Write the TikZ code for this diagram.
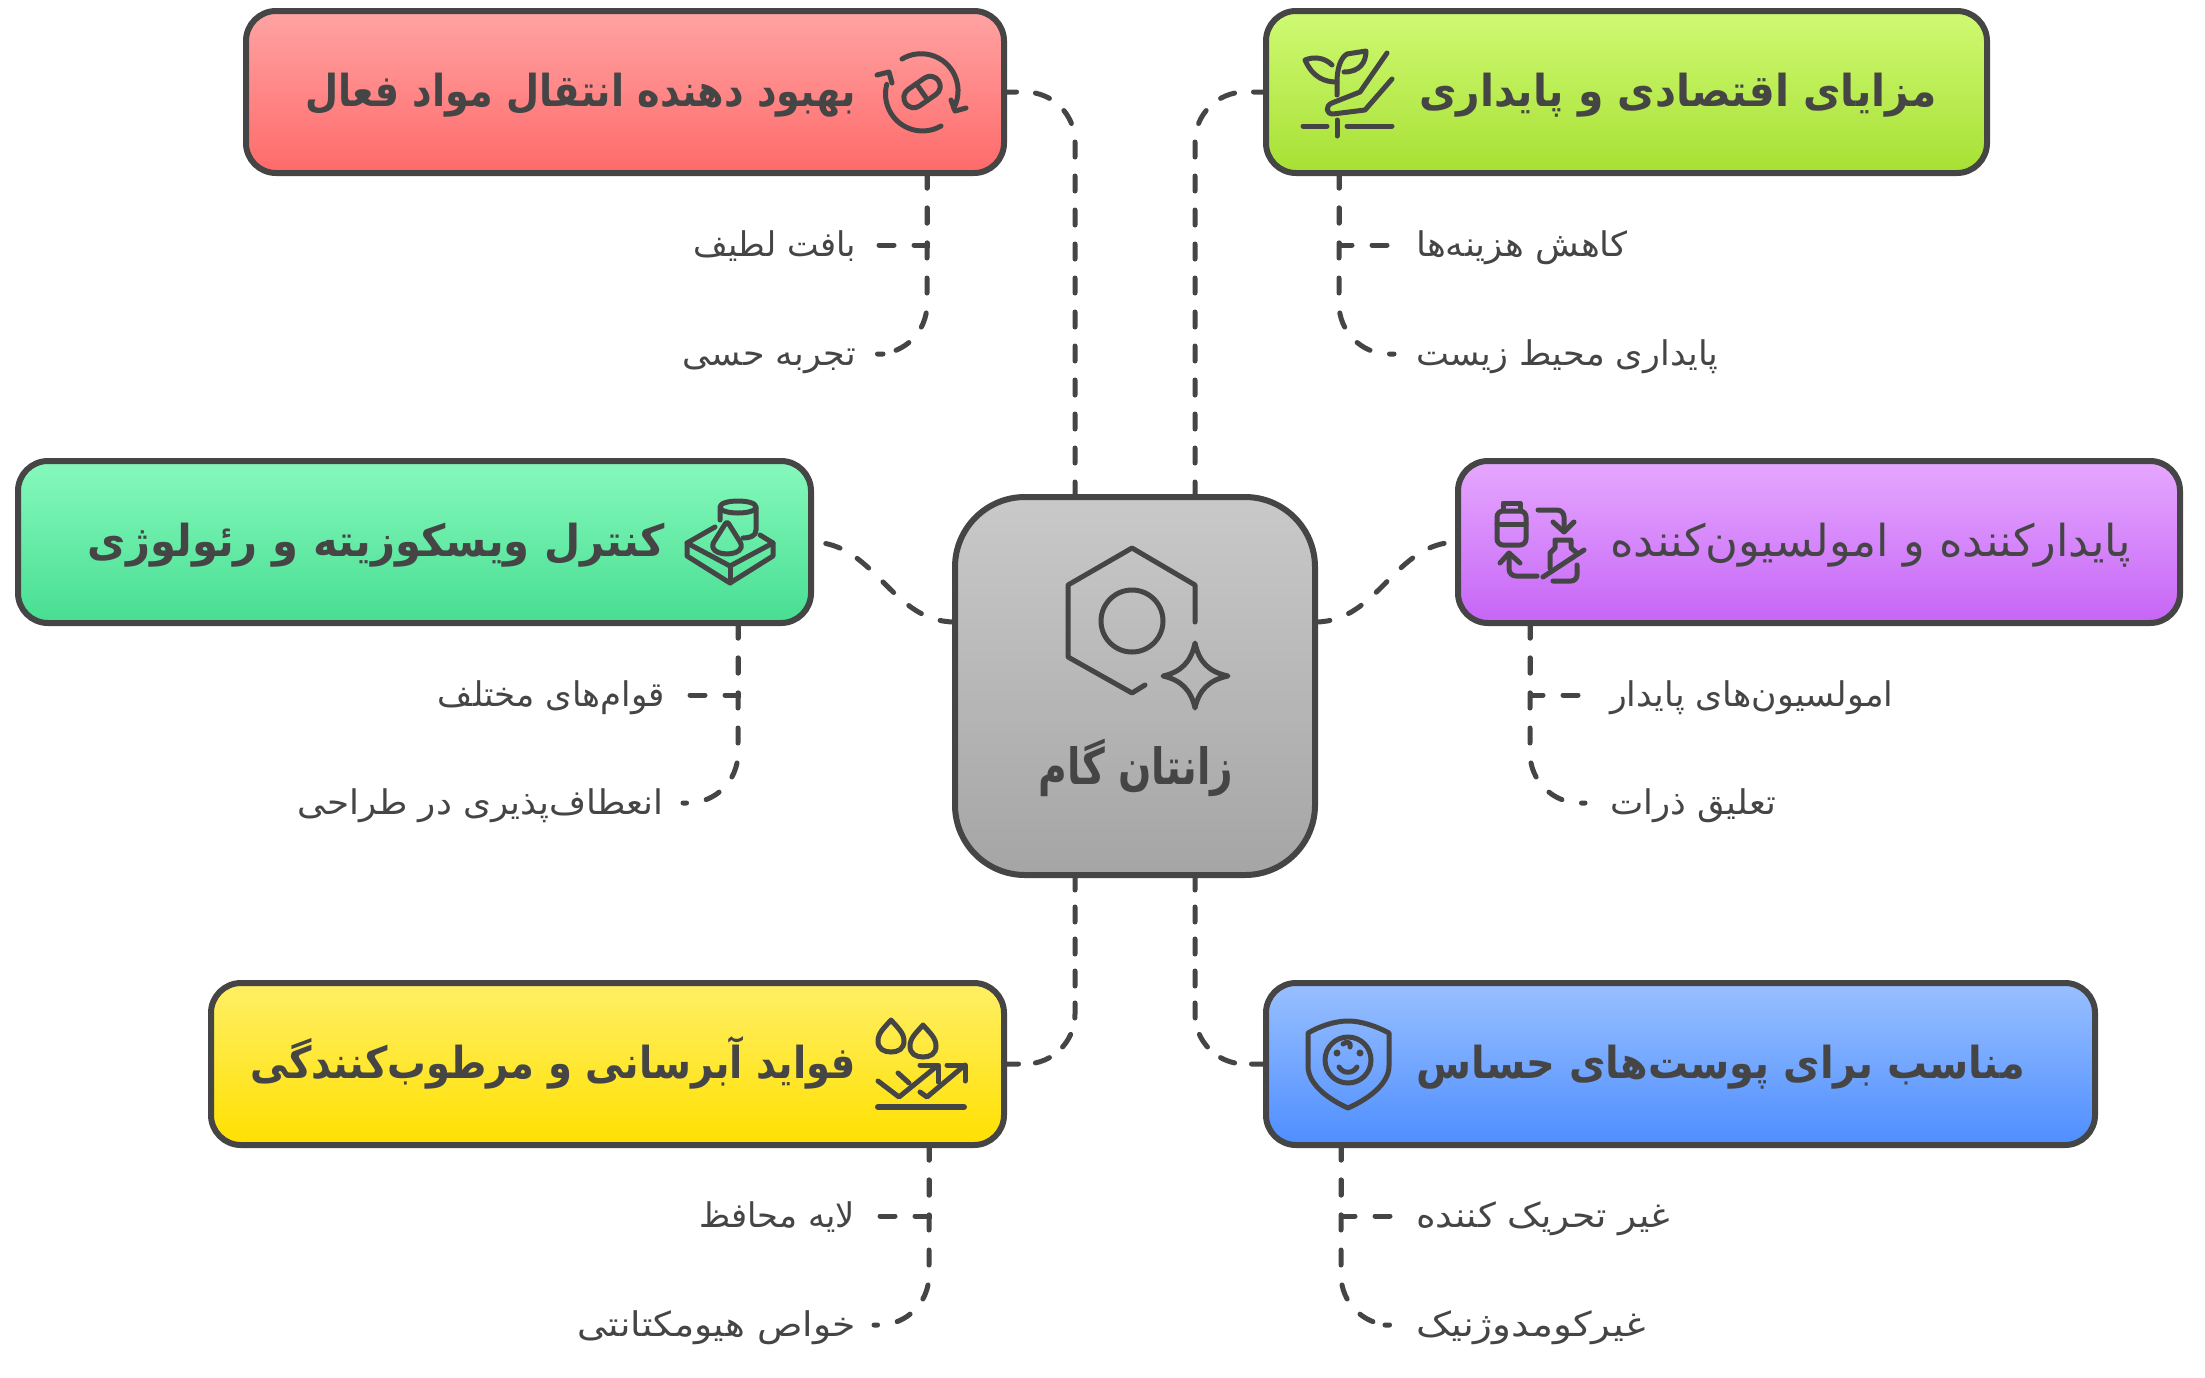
\documentclass[tikz,border=0pt]{standalone}
\usepackage{fontspec}
\newfontfamily\arabicfont[Script=Arabic]{DejaVu Sans}
\TeXXeTstate=1
\definecolor{ink}{HTML}{454545}
\definecolor{hubtop}{HTML}{C9C9C9}
\definecolor{hubbot}{HTML}{A5A5A5}
\definecolor{redtop}{HTML}{FFA3A3}
\definecolor{redbot}{HTML}{FF6A6A}
\definecolor{limetop}{HTML}{CFFA73}
\definecolor{limebot}{HTML}{A7E034}
\definecolor{minttop}{HTML}{86F9BC}
\definecolor{mintbot}{HTML}{47DE92}
\definecolor{violettop}{HTML}{E6A8FF}
\definecolor{violetbot}{HTML}{C665F6}
\definecolor{yellowtop}{HTML}{FFEF66}
\definecolor{yellowbot}{HTML}{FFE000}
\definecolor{bluetop}{HTML}{99C0FF}
\definecolor{bluebot}{HTML}{4E8EFF}
\newcommand{\fa}[2][1]{\scalebox{#1}[1]{\arabicfont\beginR #2\endR}}

\begin{document}
\begin{tikzpicture}[x=1pt,y=-1pt,
  card/.style={draw=ink,line width=6pt,rounded corners=30pt,minimum height=162pt,inner sep=0pt,outer sep=0pt},
  title/.style={text=ink,inner sep=0pt,font=\fontsize{44}{50}\selectfont\bfseries,text height=36pt,text depth=8pt},
  leaf/.style={text=ink,inner sep=6pt,font=\fontsize{34}{40}\selectfont,text height=28pt,text depth=6pt},
  link/.style={draw=ink,line width=5pt,line cap=round,dash pattern=on 15pt off 20pt},
  bent/.style={link,rounded corners=50pt},
  upper/.style={link,rounded corners=50pt,dash pattern=on 15pt off 19pt},
  lower/.style={link,rounded corners=50pt,dash pattern=on 15pt off 17pt},
  icon/.style={draw=ink,line width=5pt,line cap=round,line join=round}]

  \useasboundingbox (0,0) rectangle (2205,1377);

  % hub
  \node [draw=ink,line width=6pt,rounded corners=70pt,minimum width=360pt,minimum height=378pt,inner sep=0pt,outer sep=0pt,top color=hubtop,bottom color=hubbot] (hub) at (1135,686) {};
  \node [title,font=\fontsize{50}{56}\selectfont\bfseries] (hubtext) at (1136,770) {\fa[0.782]{زانتان گام}};
  \coordinate (hubleft) at (955,622);
  \coordinate (hubright) at (1315,622);
  \coordinate (hubtl) at (1075,497);
  \coordinate (hubtr) at (1195,497);
  \coordinate (hubbl) at (1075,875);
  \coordinate (hubbr) at (1195,875);

  % cards
  \node [card,minimum width=758pt,top color=redtop,bottom color=redbot] (delivery) at (625,92) {};
  \node [card,minimum width=721pt,top color=limetop,bottom color=limebot] (economy) at (1626.5,92) {};
  \node [card,minimum width=793pt,top color=minttop,bottom color=mintbot] (viscosity) at (414.5,542) {};
  \node [card,minimum width=722pt,top color=violettop,bottom color=violetbot] (stabilizer) at (1819,542) {};
  \node [card,minimum width=793pt,top color=yellowtop,bottom color=yellowbot] (hydration) at (607.5,1064) {};
  \node [card,minimum width=829pt,top color=bluetop,bottom color=bluebot] (sensitive) at (1680.5,1064) {};

  % titles
  \node [title,anchor=east] (deliverytext) at (856,92) {\fa[0.868]{بهبود دهنده انتقال مواد فعال}};
  \node [title,anchor=west] (economytext) at (1419,92) {\fa[0.929]{مزایای اقتصادی و پایداری}};
  \node [title,anchor=east] (viscositytext) at (665,542) {\fa[0.949]{کنترل ویسکوزیته و رئولوژی}};
  \node [title,anchor=west,font=\fontsize{44}{50}\selectfont\mdseries] (stabilizertext) at (1610,542) {\fa[1.02]{پایدارکننده و امولسیون‌کننده}};
  \node [title,anchor=east] (hydrationtext) at (856,1064) {\fa[0.876]{فواید آبرسانی و مرطوب‌کنندگی}};
  \node [title,anchor=west] (sensitivetext) at (1416,1064) {\fa[0.906]{مناسب برای پوست‌های حساس}};

  % leaves
  \node [leaf,anchor=east] (soft) at (862,245) {\fa[0.987]{بافت لطیف}};
  \node [leaf,anchor=east] (sensory) at (862,354) {\fa[1.027]{تجربه حسی}};
  \node [leaf,anchor=west] (cost) at (1410,245) {\fa[1.05]{کاهش هزینه‌ها}};
  \node [leaf,anchor=west] (green) at (1410,354) {\fa[1.03]{پایداری محیط زیست}};
  \node [leaf,anchor=east] (textures) at (671,695) {\fa[1.0]{قوام‌های مختلف}};
  \node [leaf,anchor=east] (flexible) at (670,803) {\fa[1.05]{انعطاف‌پذیری در طراحی}};
  \node [leaf,anchor=west] (emulsion) at (1604,695) {\fa[1.02]{امولسیون‌های پایدار}};
  \node [leaf,anchor=west] (particles) at (1604,803) {\fa[1.04]{تعلیق ذرات}};
  \node [leaf,anchor=east] (film) at (861,1216) {\fa[0.99]{لایه محافظ}};
  \node [leaf,anchor=east] (humectant) at (862,1325) {\fa[1.107]{خواص هیومکتانتی}};
  \node [leaf,anchor=west] (mild) at (1410,1216) {\fa[1.1]{غیر تحریک کننده}};
  \node [leaf,anchor=west] (pores) at (1410,1325) {\fa[1.15]{غیرکومدوژنیک}};

  \coordinate (deliverytap) at (927,173);
  \coordinate (economytap) at (1339,173);
  \coordinate (viscositytap) at (738,623);
  \coordinate (stabilizertap) at (1530,623);
  \coordinate (hydrationtap) at (929,1145);
  \coordinate (sensitivetap) at (1341,1145);

  % links
  \draw [upper] (hubtl) |- (delivery.east);
  \draw [upper] (hubtr) |- (economy.west);
  \draw [lower] (hubbl) |- (hydration.east);
  \draw [lower] (hubbr) |- (sensitive.west);
  \draw [link] (hubleft) to[out=180,in=0] (viscosity.east);
  \draw [link] (hubright) to[out=0,in=180] (stabilizer.west);

  \draw [link,shorten >=5pt] (deliverytap) |- (soft.east);
  \draw [bent,shorten >=21pt] (deliverytap) |- (sensory.east);
  \draw [link,shorten >=11pt] (economytap) |- (cost.west);
  \draw [bent,shorten >=16pt] (economytap) |- (green.west);
  \draw [link,shorten >=7pt] (viscositytap) |- (textures.east);
  \draw [bent,shorten >=13pt] (viscositytap) |- (flexible.east);
  \draw [link,shorten >=14pt] (stabilizertap) |- (emulsion.west);
  \draw [bent,shorten >=19pt] (stabilizertap) |- (particles.west);
  \draw [link,shorten >=8pt] (hydrationtap) |- (film.east);
  \draw [bent,shorten >=12pt] (hydrationtap) |- (humectant.east);
  \draw [link,shorten >=9pt] (sensitivetap) |- (mild.west);
  \draw [bent,shorten >=25pt] (sensitivetap) |- (pores.west);

  % hub icon
  \draw [icon] (1195,622) -- (1195,585) -- (1132,548) -- (1068,585) -- (1068,657) -- (1132,693) -- (1145,685);
  \draw [icon] (1132,621) circle (31);
  \draw [icon] (1195,643) .. controls (1199,662) and (1209,672) .. (1228,676) .. controls (1209,680) and (1199,690) .. (1195,708) .. controls (1191,690) and (1181,680) .. (1163,676) .. controls (1181,672) and (1191,662) .. cycle;

  % capsule icon
  \draw [icon] (902,59) arc[start angle=-121,end angle=28,radius=37];
  \draw [icon] (951,100) -- (955,111) -- (966,108);
  \draw [icon] (941,126) arc[start angle=60,end angle=195,radius=37];
  \draw [icon] (877,75) -- (889,72) -- (892,83);
  \begin{scope}[rotate around={35:(922,92)}]
    \draw [icon,rounded corners=10pt] (902,82) rectangle (942,102);
    \draw [icon] (922,82) -- (922,102);
  \end{scope}

  % plant icon
  \draw [icon] (1332,65) .. controls (1325,58) and (1315,56) .. (1305,60) .. controls (1313,78) and (1325,82) .. (1337,82);
  \draw [icon] (1337,95) -- (1337,82) .. controls (1337,70) and (1340,58) .. (1347,54) -- (1366,51) .. controls (1366,62) and (1360,72) .. (1344,72);
  \draw [icon] (1387,53) -- (1360,92) -- (1332,103) .. controls (1325,106) and (1326,114) .. (1333,114) -- (1365,110) -- (1392,79);
  \draw [icon] (1303,126) -- (1327,126);
  \draw [icon] (1347,126) -- (1392,126);
  \draw [icon] (1337,120) -- (1337,136);

  % bottles icon
  \draw [icon] (1503,510) -- (1503,503) -- (1520,503) -- (1520,510);
  \draw [icon,rounded corners=6pt] (1497,511) rectangle (1526,545);
  \draw [icon] (1497,524) -- (1526,524);
  \draw [icon,rounded corners=7pt] (1538,510) -- (1564,510) -- (1564,531);
  \draw [icon] (1553,522) -- (1564,532) -- (1574,522);
  \draw [icon] (1550,568) -- (1550,553) -- (1555,548) -- (1555,540) -- (1571,540) -- (1571,548) -- (1577,553);
  \draw [icon] (1543,577) -- (1584,550);
  \draw [icon,rounded corners=6pt] (1577,565) -- (1577,581) -- (1553,581);
  \draw [icon,rounded corners=7pt] (1537,576) -- (1509,576) -- (1509,554);
  \draw [icon] (1500,563) -- (1509,553) -- (1520,563);

  % cone icon
  \draw [icon] (720,507) .. controls (720,499) and (756,499) .. (756,507) .. controls (756,515) and (720,515) .. (720,507) -- (720,520);
  \draw [icon] (756,507) -- (756,530) .. controls (756,536) and (750,538) .. (743,538);
  \draw [icon,rounded corners=3pt] (727,521) -- (712,545) .. controls (716,556) and (738,556) .. (742,545) -- cycle;
  \draw [icon] (715,527) -- (687,543) -- (730,566) -- (773,543) -- (760,535);
  \draw [icon] (687,543) -- (687,556) -- (730,583) -- (773,556) -- (773,543);
  \draw [icon] (730,566) -- (730,583);

  % drops icon
  \draw [icon] (891,1020) .. controls (884,1028) and (878,1033) .. (878,1041) .. controls (878,1049) and (884,1052) .. (891,1052) .. controls (898,1052) and (904,1049) .. (904,1041) .. controls (904,1033) and (898,1028) .. cycle;
  \draw [icon] (923,1025) .. controls (916,1033) and (910,1038) .. (910,1046) .. controls (910,1054) and (916,1057) .. (923,1057) .. controls (930,1057) and (936,1054) .. (936,1046) .. controls (936,1038) and (930,1033) .. cycle;
  \draw [icon] (878,1081) -- (899,1097) -- (937,1066);
  \draw [icon] (920,1065) -- (938,1065) -- (938,1082);
  \draw [icon] (898,1073) -- (909,1083);
  \draw [icon] (920,1092) -- (927,1097) -- (965,1065);
  \draw [icon] (947,1065) -- (965,1065) -- (965,1081);
  \draw [icon,line width=6pt] (878,1107) -- (964,1107);

  % shield icon
  \draw [icon] (1348,1021) .. controls (1335,1021) and (1320,1026) .. (1308,1033) -- (1308,1066) .. controls (1308,1085) and (1330,1100) .. (1348,1108) .. controls (1366,1100) and (1389,1085) .. (1389,1066) -- (1389,1033) .. controls (1376,1026) and (1361,1021) .. cycle;
  \draw [icon] (1348,1060) circle (23);
  \fill [ink] (1337,1053) circle (3.5) (1360,1053) circle (3.5);
  \draw [icon] (1339,1067) .. controls (1343,1074) and (1353,1074) .. (1357,1067);
  \draw [icon] (1343,1044) .. controls (1346,1041) and (1352,1042) .. (1350,1047);
\end{tikzpicture}
\end{document}
